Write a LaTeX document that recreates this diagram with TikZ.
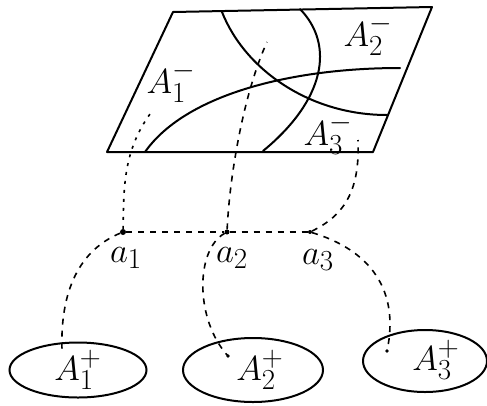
\documentclass[tikz,border=0pt]{standalone}
\usetikzlibrary{shapes.geometric}
\newcommand{\handlbl}[1]{\scalebox{1.4}{\fontsize{24.88}{28}\selectfont$#1$}}
\begin{document}
\begin{tikzpicture}[x=1pt,y=-1pt,
  solidline/.style={line width=2pt,line cap=round,line join=round},
  dashline/.style={line width=1.6pt,dash pattern=on 6pt off 6pt},
  dotline/.style={line width=1.6pt,dash pattern=on 3pt off 6pt},
  pt/.style={circle,fill,inner sep=0pt,minimum size=6pt},
  lbl/.style={inner sep=0pt},
  blob/.style={ellipse,draw,line width=2pt,inner sep=0pt}]
\useasboundingbox (0,0) rectangle (487,405);
% plane
\draw[solidline] (107,152) -- (373,152) -- (432,7) -- (173,12) -- cycle;
\draw[solidline] (222,12) .. controls (245,70) and (310,115) .. (387,115);
\draw[solidline] (300,9) .. controls (335,45) and (325,100) .. (263,151);
\draw[solidline] (145,152) .. controls (185,95) and (290,68) .. (400,68);
\node[lbl] (Am1) at (171,82) {\handlbl{A_1^-}};
\node[lbl] (Am2) at (368,35) {\handlbl{A_2^-}};
\node[lbl] (Am3) at (328,134) {\handlbl{A_3^-}};
% points
\node[pt] (a1) at (123,232) {};
\node[pt,minimum size=5pt] (a2) at (227,232) {};
\node[pt,minimum size=4pt] (a3) at (310,232) {};
\node[lbl] (la1) at (126,258) {\handlbl{a_1}};
\node[lbl] (la2) at (232,258) {\handlbl{a_2}};
\node[lbl] (la3) at (318,260) {\handlbl{a_3}};
% ends on the plane
\coordinate (u1) at (153,110);
\coordinate (u2) at (267,42);
\coordinate (u3) at (358,140);
\draw[dotline] (a1) .. controls (124,190) and (122,150) .. (u1);
\draw[dashline] (a2) .. controls (230,170) and (245,90) .. (u2);
\draw[dashline] (a3) .. controls (345,215) and (360,190) .. (u3);
\draw[dashline] (a1) -- (a2) -- (a3);
% lower ellipses
\node[blob,minimum width=137pt,minimum height=55pt] (E1) at (78,370) {};
\node[blob,minimum width=140pt,minimum height=64pt] (E2) at (253,370) {};
\node[blob,minimum width=124pt,minimum height=62pt] (E3) at (425,361) {};
\node[lbl] (Ap1) at (78,370) {\handlbl{A_1^+}};
\node[lbl] (Ap2) at (260,370) {\handlbl{A_2^+}};
\node[lbl] (Ap3) at (436,360) {\handlbl{A_3^+}};
\coordinate (d1) at (62,350);
\coordinate (d2) at (228,356);
\coordinate (d3) at (387,351);
\draw[dashline] (a1) .. controls (80,250) and (60,290) .. (d1);
\draw[dashline] (a2) .. controls (195,250) and (195,320) .. (d2);
\draw[dashline] (a3) .. controls (370,250) and (400,290) .. (d3);
\fill (d2) circle (1.8pt);
\fill (d3) circle (1.8pt);
\end{tikzpicture}
\end{document}
